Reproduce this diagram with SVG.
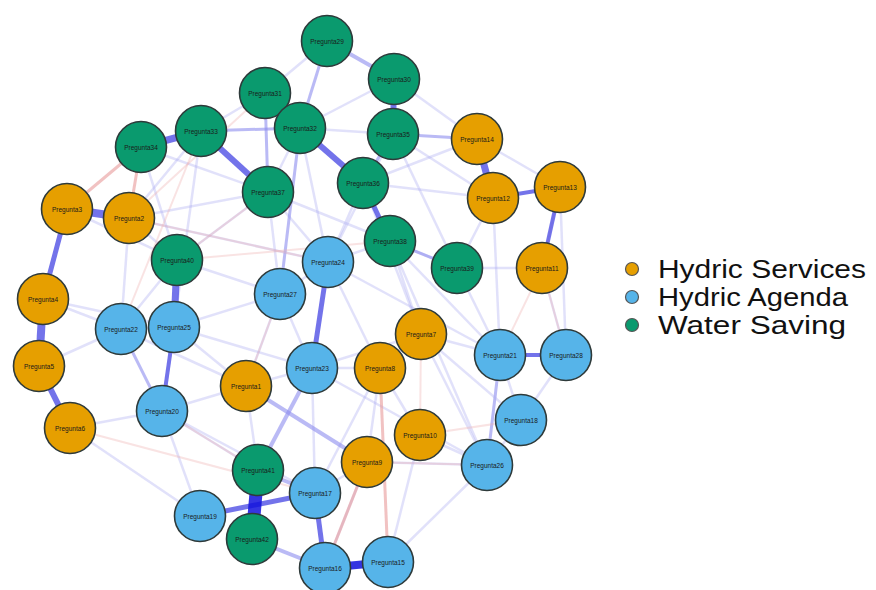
<svg xmlns="http://www.w3.org/2000/svg" width="876" height="590" viewBox="0 0 876 590">
<style>
.bg{fill:#ffffff}
line{stroke-linecap:butt}
.s{stroke:#5a5ae6;stroke-opacity:.85}
.k{stroke:#1212dc}
.m{stroke:#8c8cee;stroke-opacity:.6}
.f{stroke:#a8a8f2;stroke-opacity:.35;stroke-width:2.5}
.r{stroke:#e89a9a;stroke-opacity:.6;stroke-width:3}
.rf{stroke:#eeb0b0;stroke-opacity:.35;stroke-width:2}
.node circle{stroke:#2e3a3a;stroke-width:1.6}
.hs circle{fill:#e69f00}
.ha circle{fill:#56b4e9}
.ws circle{fill:#0a9a6e}
.node text{font-family:"Liberation Sans",Arial,sans-serif;font-size:6.5px;fill:#1a1a1a;text-anchor:middle;dominant-baseline:central}
.leg text{font-family:"Liberation Sans",Arial,sans-serif;font-size:25px;fill:#111}
.leg circle{stroke:#555;stroke-width:1.2}
</style>
<rect class="bg" x="0" y="0" width="876" height="590"/>
<g id="connectors">
<line class="f" x1="328" y1="262" x2="280" y2="294"/>
<line class="f" x1="328" y1="262" x2="268" y2="192"/>
<line class="f" x1="328" y1="262" x2="390" y2="241"/>
<line class="f" x1="328" y1="262" x2="380" y2="368"/>
<line class="f" x1="328" y1="262" x2="500" y2="355"/>
<line class="f" x1="280" y1="294" x2="174" y2="327"/>
<line class="f" x1="280" y1="294" x2="312" y2="368"/>
<line class="f" x1="280" y1="294" x2="177" y2="260"/>
<line class="f" x1="121" y1="329" x2="174" y2="327"/>
<line class="m" x1="121" y1="329" x2="162" y2="411" stroke-width="3"/>
<line class="f" x1="121" y1="329" x2="43" y2="299"/>
<line class="f" x1="121" y1="329" x2="177" y2="260"/>
<line class="f" x1="174" y1="327" x2="312" y2="368"/>
<line class="f" x1="174" y1="327" x2="246" y2="386"/>
<line class="f" x1="312" y1="368" x2="380" y2="368"/>
<line class="f" x1="312" y1="368" x2="421" y2="334"/>
<line class="f" x1="312" y1="368" x2="315" y2="493"/>
<line class="f" x1="162" y1="411" x2="200" y2="516"/>
<line class="f" x1="162" y1="411" x2="246" y2="386"/>
<line class="f" x1="162" y1="411" x2="315" y2="493"/>
<line class="f" x1="380" y1="368" x2="421" y2="334"/>
<line class="f" x1="380" y1="368" x2="367" y2="462"/>
<line class="f" x1="380" y1="368" x2="420" y2="435"/>
<line class="f" x1="421" y1="334" x2="500" y2="355"/>
<line class="f" x1="421" y1="334" x2="487" y2="465"/>
<line class="f" x1="420" y1="435" x2="487" y2="465"/>
<line class="f" x1="367" y1="462" x2="315" y2="493"/>
<line class="f" x1="367" y1="462" x2="487" y2="465"/>
<line class="m" x1="500" y1="355" x2="487" y2="465" stroke-width="3"/>
<line class="f" x1="500" y1="355" x2="521" y2="420"/>
<line class="f" x1="566" y1="355" x2="521" y2="420"/>
<line class="f" x1="521" y1="420" x2="487" y2="465"/>
<line class="f" x1="390" y1="241" x2="457" y2="268"/>
<line class="f" x1="457" y1="268" x2="500" y2="355"/>
<line class="f" x1="457" y1="268" x2="542" y2="268"/>
<line class="f" x1="457" y1="268" x2="493" y2="198"/>
<line class="f" x1="363" y1="183" x2="493" y2="198"/>
<line class="f" x1="363" y1="183" x2="477" y2="139"/>
<line class="f" x1="393" y1="134" x2="493" y2="198"/>
<line class="f" x1="393" y1="134" x2="457" y2="268"/>
<line class="f" x1="390" y1="241" x2="500" y2="355"/>
<line class="f" x1="390" y1="241" x2="421" y2="334"/>
<line class="f" x1="300" y1="128" x2="265" y2="93"/>
<line class="f" x1="265" y1="93" x2="201" y2="131"/>
<line class="f" x1="300" y1="128" x2="268" y2="192"/>
<line class="m" x1="201" y1="131" x2="300" y2="128" stroke-width="3"/>
<line class="f" x1="141" y1="147" x2="177" y2="260"/>
<line class="f" x1="201" y1="131" x2="174" y2="327"/>
<line class="f" x1="268" y1="192" x2="177" y2="260"/>
<line class="f" x1="268" y1="192" x2="129" y2="218"/>
<line class="f" x1="268" y1="192" x2="280" y2="294"/>
<line class="f" x1="327" y1="41" x2="265" y2="93"/>
<line class="f" x1="394" y1="79" x2="477" y2="139"/>
<line class="m" x1="300" y1="128" x2="280" y2="294" stroke-width="3"/>
<line class="f" x1="300" y1="128" x2="328" y2="262"/>
<line class="f" x1="363" y1="183" x2="328" y2="262"/>
<line class="f" x1="363" y1="183" x2="421" y2="334"/>
<line class="f" x1="129" y1="218" x2="121" y2="329"/>
<line class="f" x1="129" y1="218" x2="177" y2="260"/>
<line class="f" x1="67" y1="209" x2="177" y2="260"/>
<line class="f" x1="43" y1="299" x2="174" y2="327"/>
<line class="f" x1="39" y1="366" x2="121" y2="329"/>
<line class="f" x1="70" y1="428" x2="162" y2="411"/>
<line class="f" x1="70" y1="428" x2="200" y2="516"/>
<line class="f" x1="258" y1="470" x2="246" y2="386"/>
<line class="f" x1="258" y1="470" x2="162" y2="411"/>
<line class="f" x1="315" y1="493" x2="380" y2="368"/>
<line class="f" x1="325" y1="568" x2="367" y2="462"/>
<line class="f" x1="388" y1="562" x2="420" y2="435"/>
<line class="f" x1="487" y1="465" x2="388" y2="562"/>
<line class="f" x1="390" y1="241" x2="487" y2="465"/>
<line class="f" x1="493" y1="198" x2="500" y2="355"/>
<line class="f" x1="542" y1="268" x2="566" y2="355"/>
<line class="f" x1="560" y1="187" x2="566" y2="355"/>
<line class="f" x1="477" y1="139" x2="560" y2="187"/>
<line class="f" x1="394" y1="79" x2="300" y2="128"/>
<line class="m" x1="393" y1="134" x2="363" y2="183" stroke-width="3"/>
<line class="f" x1="393" y1="134" x2="328" y2="262"/>
<line class="f" x1="141" y1="147" x2="268" y2="192"/>
<line class="f" x1="201" y1="131" x2="129" y2="218"/>
<line class="f" x1="246" y1="386" x2="312" y2="368"/>
<line class="f" x1="246" y1="386" x2="280" y2="294"/>
<line class="f" x1="121" y1="329" x2="246" y2="386"/>
<line class="f" x1="390" y1="241" x2="268" y2="192"/>
<line class="f" x1="300" y1="128" x2="393" y2="134"/>
<line class="f" x1="129" y1="218" x2="328" y2="262"/>
<line class="f" x1="421" y1="334" x2="521" y2="420"/>
<line class="f" x1="312" y1="368" x2="487" y2="465"/>
<line class="r" x1="141" y1="147" x2="67" y2="209"/>
<line class="r" x1="141" y1="147" x2="129" y2="218"/>
<line class="rf" x1="268" y1="192" x2="177" y2="260"/>
<line class="rf" x1="328" y1="262" x2="129" y2="218"/>
<line class="rf" x1="201" y1="131" x2="121" y2="329"/>
<line class="rf" x1="265" y1="93" x2="129" y2="218"/>
<line class="rf" x1="246" y1="386" x2="280" y2="294"/>
<line class="r" x1="367" y1="462" x2="325" y2="568"/>
<line class="r" x1="380" y1="368" x2="388" y2="562"/>
<line class="rf" x1="420" y1="435" x2="521" y2="420"/>
<line class="rf" x1="542" y1="268" x2="500" y2="355"/>
<line class="rf" x1="367" y1="462" x2="487" y2="465"/>
<line class="rf" x1="421" y1="334" x2="420" y2="435"/>
<line class="rf" x1="560" y1="187" x2="542" y2="268"/>
<line class="rf" x1="258" y1="470" x2="162" y2="411"/>
<line class="rf" x1="70" y1="428" x2="315" y2="493"/>
<line class="rf" x1="177" y1="260" x2="390" y2="241"/>
<line class="rf" x1="566" y1="355" x2="542" y2="268"/>
<line class="m" x1="327" y1="41" x2="394" y2="79" stroke-width="4"/>
<line class="m" x1="327" y1="41" x2="300" y2="128" stroke-width="3"/>
<line class="m" x1="393" y1="134" x2="477" y2="139" stroke-width="3"/>
<line class="m" x1="312" y1="368" x2="258" y2="470" stroke-width="4"/>
<line class="m" x1="246" y1="386" x2="367" y2="462" stroke-width="4"/>
<line class="m" x1="252" y1="539" x2="325" y2="568" stroke-width="4"/>
<line class="m" x1="258" y1="470" x2="315" y2="493" stroke-width="4"/>
<line class="m" x1="265" y1="93" x2="268" y2="192" stroke-width="3"/>
<line class="m" x1="457" y1="268" x2="390" y2="241" stroke-width="3"/>
<line class="s" x1="141" y1="147" x2="201" y2="131" stroke-width="7"/>
<line class="s" x1="201" y1="131" x2="268" y2="192" stroke-width="6"/>
<line class="s" x1="300" y1="128" x2="363" y2="183" stroke-width="6"/>
<line class="s" x1="363" y1="183" x2="390" y2="241" stroke-width="5"/>
<line class="s" x1="394" y1="79" x2="393" y2="134" stroke-width="6"/>
<line class="s" x1="67" y1="209" x2="129" y2="218" stroke-width="8"/>
<line class="s" x1="67" y1="209" x2="43" y2="299" stroke-width="5"/>
<line class="s" x1="43" y1="299" x2="39" y2="366" stroke-width="8"/>
<line class="s" x1="39" y1="366" x2="70" y2="428" stroke-width="6"/>
<line class="s" x1="177" y1="260" x2="174" y2="327" stroke-width="7"/>
<line class="s" x1="174" y1="327" x2="162" y2="411" stroke-width="4"/>
<line class="s" x1="328" y1="262" x2="312" y2="368" stroke-width="5"/>
<line class="s" x1="477" y1="139" x2="493" y2="198" stroke-width="7"/>
<line class="s" x1="493" y1="198" x2="560" y2="187" stroke-width="4"/>
<line class="s" x1="560" y1="187" x2="542" y2="268" stroke-width="4"/>
<line class="s" x1="500" y1="355" x2="566" y2="355" stroke-width="4"/>
<line class="s" x1="200" y1="516" x2="315" y2="493" stroke-width="5"/>
<line class="s" x1="315" y1="493" x2="325" y2="568" stroke-width="5"/>
<line class="s k" x1="325" y1="568" x2="388" y2="562" stroke-width="8"/>
<line class="s k" x1="258" y1="470" x2="252" y2="539" stroke-width="13"/>
</g>
<g id="n-p1" class="node hs"><circle cx="246" cy="386" r="25.5"/><text x="246" y="386">Pregunta1</text></g>
<g id="n-p2" class="node hs"><circle cx="129" cy="218" r="25.5"/><text x="129" y="218">Pregunta2</text></g>
<g id="n-p3" class="node hs"><circle cx="67" cy="209" r="25.5"/><text x="67" y="209">Pregunta3</text></g>
<g id="n-p4" class="node hs"><circle cx="43" cy="299" r="25.5"/><text x="43" y="299">Pregunta4</text></g>
<g id="n-p5" class="node hs"><circle cx="39" cy="366" r="25.5"/><text x="39" y="366">Pregunta5</text></g>
<g id="n-p6" class="node hs"><circle cx="70" cy="428" r="25.5"/><text x="70" y="428">Pregunta6</text></g>
<g id="n-p7" class="node hs"><circle cx="421" cy="334" r="25.5"/><text x="421" y="334">Pregunta7</text></g>
<g id="n-p8" class="node hs"><circle cx="380" cy="368" r="25.5"/><text x="380" y="368">Pregunta8</text></g>
<g id="n-p9" class="node hs"><circle cx="367" cy="462" r="25.5"/><text x="367" y="462">Pregunta9</text></g>
<g id="n-p10" class="node hs"><circle cx="420" cy="435" r="25.5"/><text x="420" y="435">Pregunta10</text></g>
<g id="n-p11" class="node hs"><circle cx="542" cy="268" r="25.5"/><text x="542" y="268">Pregunta11</text></g>
<g id="n-p12" class="node hs"><circle cx="493" cy="198" r="25.5"/><text x="493" y="198">Pregunta12</text></g>
<g id="n-p13" class="node hs"><circle cx="560" cy="187" r="25.5"/><text x="560" y="187">Pregunta13</text></g>
<g id="n-p14" class="node hs"><circle cx="477" cy="139" r="25.5"/><text x="477" y="139">Pregunta14</text></g>
<g id="n-p15" class="node ha"><circle cx="388" cy="562" r="25.5"/><text x="388" y="562">Pregunta15</text></g>
<g id="n-p16" class="node ha"><circle cx="325" cy="568" r="25.5"/><text x="325" y="568">Pregunta16</text></g>
<g id="n-p17" class="node ha"><circle cx="315" cy="493" r="25.5"/><text x="315" y="493">Pregunta17</text></g>
<g id="n-p18" class="node ha"><circle cx="521" cy="420" r="25.5"/><text x="521" y="420">Pregunta18</text></g>
<g id="n-p19" class="node ha"><circle cx="200" cy="516" r="25.5"/><text x="200" y="516">Pregunta19</text></g>
<g id="n-p20" class="node ha"><circle cx="162" cy="411" r="25.5"/><text x="162" y="411">Pregunta20</text></g>
<g id="n-p21" class="node ha"><circle cx="500" cy="355" r="25.5"/><text x="500" y="355">Pregunta21</text></g>
<g id="n-p22" class="node ha"><circle cx="121" cy="329" r="25.5"/><text x="121" y="329">Pregunta22</text></g>
<g id="n-p23" class="node ha"><circle cx="312" cy="368" r="25.5"/><text x="312" y="368">Pregunta23</text></g>
<g id="n-p24" class="node ha"><circle cx="328" cy="262" r="25.5"/><text x="328" y="262">Pregunta24</text></g>
<g id="n-p25" class="node ha"><circle cx="174" cy="327" r="25.5"/><text x="174" y="327">Pregunta25</text></g>
<g id="n-p26" class="node ha"><circle cx="487" cy="465" r="25.5"/><text x="487" y="465">Pregunta26</text></g>
<g id="n-p27" class="node ha"><circle cx="280" cy="294" r="25.5"/><text x="280" y="294">Pregunta27</text></g>
<g id="n-p28" class="node ha"><circle cx="566" cy="355" r="25.5"/><text x="566" y="355">Pregunta28</text></g>
<g id="n-p29" class="node ws"><circle cx="327" cy="41" r="25.5"/><text x="327" y="41">Pregunta29</text></g>
<g id="n-p30" class="node ws"><circle cx="394" cy="79" r="25.5"/><text x="394" y="79">Pregunta30</text></g>
<g id="n-p31" class="node ws"><circle cx="265" cy="93" r="25.5"/><text x="265" y="93">Pregunta31</text></g>
<g id="n-p32" class="node ws"><circle cx="300" cy="128" r="25.5"/><text x="300" y="128">Pregunta32</text></g>
<g id="n-p33" class="node ws"><circle cx="201" cy="131" r="25.5"/><text x="201" y="131">Pregunta33</text></g>
<g id="n-p34" class="node ws"><circle cx="141" cy="147" r="25.5"/><text x="141" y="147">Pregunta34</text></g>
<g id="n-p35" class="node ws"><circle cx="393" cy="134" r="25.5"/><text x="393" y="134">Pregunta35</text></g>
<g id="n-p36" class="node ws"><circle cx="363" cy="183" r="25.5"/><text x="363" y="183">Pregunta36</text></g>
<g id="n-p37" class="node ws"><circle cx="268" cy="192" r="25.5"/><text x="268" y="192">Pregunta37</text></g>
<g id="n-p38" class="node ws"><circle cx="390" cy="241" r="25.5"/><text x="390" y="241">Pregunta38</text></g>
<g id="n-p39" class="node ws"><circle cx="457" cy="268" r="25.5"/><text x="457" y="268">Pregunta39</text></g>
<g id="n-p40" class="node ws"><circle cx="177" cy="260" r="25.5"/><text x="177" y="260">Pregunta40</text></g>
<g id="n-p41" class="node ws"><circle cx="258" cy="470" r="25.5"/><text x="258" y="470">Pregunta41</text></g>
<g id="n-p42" class="node ws"><circle cx="252" cy="539" r="25.5"/><text x="252" y="539">Pregunta42</text></g>
<g id="legend" class="leg">
<circle cx="632" cy="269" r="6.5" fill="#e69f00"/>
<circle cx="632" cy="297" r="6.5" fill="#56b4e9"/>
<circle cx="632" cy="325" r="6.5" fill="#0a9a6e"/>
<text x="658" y="278" textLength="208" lengthAdjust="spacingAndGlyphs">Hydric Services</text>
<text x="658" y="306" textLength="190" lengthAdjust="spacingAndGlyphs">Hydric Agenda</text>
<text x="658" y="334" textLength="188" lengthAdjust="spacingAndGlyphs">Water Saving</text>
</g>
</svg>
